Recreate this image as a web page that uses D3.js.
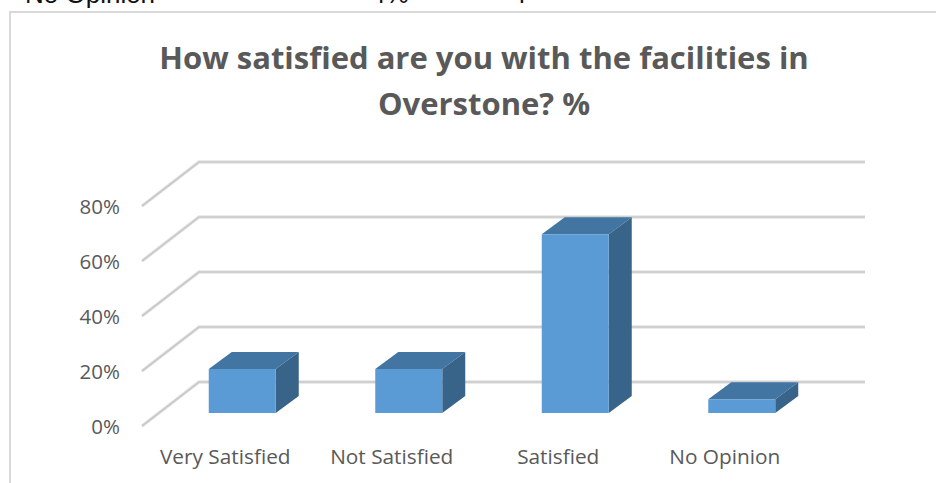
<!DOCTYPE html>
<html><head><meta charset="utf-8">
<script src="https://cdn.jsdelivr.net/npm/d3@7"></script>
<style>html,body{margin:0;padding:0;background:#fff}svg{display:block}</style>
</head><body><div id="c"></div>
<script>
const categories = ["Very Satisfied","Not Satisfied","Satisfied","No Opinion"];
const values = [16,16,65,5];
const yTicks = [0,20,40,60,80];
const titleLines = ["How satisfied are you with the facilities in","Overstone? %"];

const W=936,H=483;
const svg=d3.select("#c").append("svg").attr("width",W).attr("height",H);
const font="'Open Sans',sans-serif";
const depthX=57, depthY=-44, barDX=23, barDY=-17;
const y=d3.scaleLinear().domain([0,80]).range([426,206]);
const x=d3.scaleBand().domain(categories).range([142,808]);
const barShift=17, barBase=-13, barW=67;

// page text fragment
const page=svg.append("g").attr("font-family","'Liberation Sans',sans-serif").attr("font-size",26).attr("fill","#111");
page.append("text").attr("x",25).attr("y",3).text("No Opinion");
page.append("text").attr("x",371).attr("y",3).text("4%");
page.append("text").attr("x",519).attr("y",-2).text("p");

// frame
svg.append("path").attr("d",`M10,${H}V12H${W}`).attr("fill","none").attr("stroke","#d9d9d9").attr("stroke-width",2);

// title
svg.append("g").selectAll("text").data(titleLines).join("text")
 .attr("x",484).attr("y",(d,i)=>69+i*46).attr("text-anchor","middle")
 .attr("font-family",font).attr("font-weight",700).attr("font-size",31).attr("fill","#595959").text(d=>d);

// gridlines
const grid=svg.append("g").attr("fill","none");
yTicks.forEach(t=>{
 const p=d3.path(); p.moveTo(142,y(t)); p.lineTo(142+depthX,y(t)+depthY); p.lineTo(865,y(t)+depthY);
 grid.append("path").attr("d",p.toString()).attr("stroke","#e4e4e4").attr("stroke-width",3.4);
 grid.append("path").attr("d",p.toString()).attr("stroke","#c9c9c9").attr("stroke-width",1.6);
});

// y labels
svg.append("g").selectAll("text").data(yTicks).join("text")
 .attr("x",120).attr("y",d=>y(d)+8).attr("text-anchor","end")
 .attr("font-family",font).attr("font-size",20.5).attr("fill","#595959").text(d=>d+"%");

// bars
const bars=svg.append("g");
categories.forEach((c,i)=>{
 const x0=x(c)+barShift+(x.bandwidth()-barW)/2, x1=x0+barW;
 const yb=y(0)+barBase, yt=y(values[i])+barBase;
 bars.append("path").attr("d",`M${x0},${yt}L${x0+barDX},${yt+barDY}H${x1+barDX}L${x1},${yt}Z`).attr("fill","#4375a3");
 bars.append("path").attr("d",`M${x1},${yt}L${x1+barDX},${yt+barDY}V${yb+barDY}L${x1},${yb}Z`).attr("fill","#386489");
 bars.append("rect").attr("x",x0).attr("y",yt).attr("width",barW).attr("height",yb-yt).attr("fill","#5b9bd5");
});

// category labels
svg.append("g").selectAll("text").data(categories).join("text")
 .attr("x",c=>x(c)+x.bandwidth()/2).attr("y",464).attr("text-anchor","middle")
 .attr("font-family",font).attr("font-size",20.8).attr("fill","#595959").text(d=>d);
</script></body></html>
